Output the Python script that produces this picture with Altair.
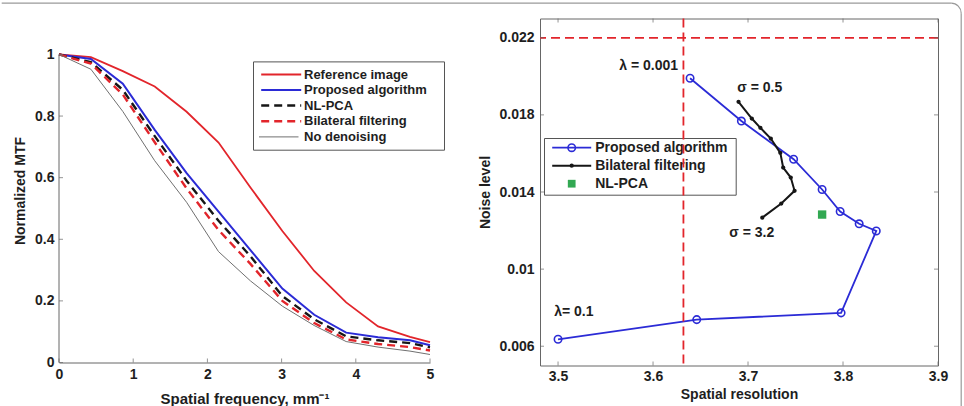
import altair as alt
import pandas as pd

# ---------------- MTF curves (left panel) ----------------
freq = [0, 0.43, 0.86, 1.29, 1.72, 2.15, 2.58, 3.01, 3.44, 3.87, 4.30, 4.73, 5.0]
mtf_reference = [1, 0.991, 0.946, 0.896, 0.814, 0.714, 0.568, 0.427, 0.297, 0.195, 0.117, 0.083, 0.066]
mtf_proposed = [1, 0.985, 0.905, 0.755, 0.615, 0.49, 0.365, 0.24, 0.155, 0.097, 0.082, 0.072, 0.056]
mtf_nlpca = [1, 0.975, 0.885, 0.735, 0.59, 0.46, 0.345, 0.216, 0.14, 0.085, 0.072, 0.063, 0.049]
mtf_bilateral = [1, 0.97, 0.87, 0.715, 0.565, 0.43, 0.32, 0.2, 0.128, 0.075, 0.06, 0.05, 0.039]
mtf_none = [1, 0.952, 0.815, 0.655, 0.52, 0.36, 0.265, 0.183, 0.12, 0.068, 0.05, 0.037, 0.026]
mtf_series = ["Reference image", "Proposed algorithm", "NL-PCA", "Bilateral filtering", "No denoising"]
mtf_values = [mtf_reference, mtf_proposed, mtf_nlpca, mtf_bilateral, mtf_none]
freq_ticks = [0, 1, 2, 3, 4, 5]
mtf_ticks = [0, 0.2, 0.4, 0.6, 0.8, 1]

# ---------------- Noise level vs spatial resolution (right panel) ----------------
prop_res = [3.639, 3.693, 3.748, 3.778, 3.797, 3.817, 3.835, 3.798, 3.646, 3.5]
prop_noise = [0.0199, 0.01768, 0.0157, 0.01413, 0.01299, 0.01235, 0.01198, 0.00773, 0.00738, 0.00636]
bil_res = [3.690, 3.704, 3.713, 3.724, 3.734, 3.737, 3.745, 3.749, 3.735, 3.715]
bil_noise = [0.01868, 0.01781, 0.01733, 0.01677, 0.01603, 0.01527, 0.01475, 0.01406, 0.0134, 0.01267]
nlpca_res = [3.778]
nlpca_noise = [0.01283]
res_limit = [3.632]
noise_limit = [0.022]
ann_text = ["λ = 0.001", "σ = 0.5", "σ = 3.2", "λ= 0.1"]
ann_res = [3.5644, 3.6886, 3.6802, 3.4959]
ann_noise = [0.02053, 0.0194, 0.01188, 0.00777]
res_ticks = [3.5, 3.6, 3.7, 3.8, 3.9]
noise_ticks = [0.006, 0.01, 0.014, 0.018, 0.022]
legend_right = ["Proposed algorithm", "Bilateral filtering", "NL-PCA"]

# ---------------- styling ----------------
RED = "#e2252b"
BLUE = "#2b2bd6"
BLACK = "#161616"
GRAY = "#707070"
GREEN = "#32a852"
AXIS_GRAY = "#666666"
TEXT = "#1e1e1e"
FONT = "Liberation Sans"

line_style = {
    "Reference image": {"color": RED, "strokeWidth": 1.8},
    "Proposed algorithm": {"color": BLUE, "strokeWidth": 2.0},
    "NL-PCA": {"color": BLACK, "strokeWidth": 2.4, "strokeDash": [8, 5]},
    "Bilateral filtering": {"color": RED, "strokeWidth": 2.4, "strokeDash": [8, 5]},
    "No denoising": {"color": GRAY, "strokeWidth": 1.0},
}

LW, LH = 371, 344
RW, RH = 398, 347
one = pd.DataFrame({"k": [0]})

# ---------------- left panel ----------------
mtf_df = pd.DataFrame(
    [{"series": s, "f": f, "mtf": v} for s, vals in zip(mtf_series, mtf_values) for f, v in zip(freq, vals)]
)
fx_scale = alt.Scale(domain=[0, 5], nice=False, zero=False)
fy_scale = alt.Scale(domain=[0, 1.1167], nice=False, zero=False)
fx_axis = alt.Axis(values=freq_ticks, title="Spatial frequency, mm⁻¹", format="~g", labelFlush=False,
                   domain=True, domainColor=AXIS_GRAY, labelPadding=5, titlePadding=10, titleFontSize=15)
fy_axis = alt.Axis(values=mtf_ticks, title="Normalized MTF", format="~g", labelFlush=False,
                   domain=False, labelPadding=5, titlePadding=7)


def fx(field):
    return alt.X(field, type="quantitative", scale=fx_scale, axis=fx_axis)


def fy(field):
    return alt.Y(field, type="quantitative", scale=fy_scale, axis=fy_axis)


left_layers = []
for s in mtf_series:
    left_layers.append(
        alt.Chart(mtf_df).transform_filter(alt.datum.series == s)
        .mark_line(**line_style[s]).encode(x=fx("f"), y=fy("mtf"))
    )

# y axis line from the first to the last tick only (the panel has no box)
yline_df = pd.DataFrame({"f": [freq_ticks[0]], "mtf": [mtf_ticks[0]], "mtf_top": [mtf_ticks[-1]]})
left_layers.append(
    alt.Chart(yline_df).mark_rule(color=AXIS_GRAY, strokeWidth=1)
    .encode(x=fx("f"), y=fy("mtf"), y2="mtf_top")
)
# inward tick marks
fxt = pd.DataFrame({"f": freq_ticks, "mtf": [mtf_ticks[0]] * len(freq_ticks)})
fyt = pd.DataFrame({"mtf": mtf_ticks, "f": [freq_ticks[0]] * len(mtf_ticks)})
left_layers.append(
    alt.Chart(fxt).mark_tick(orient="vertical", size=4, thickness=1, color=AXIS_GRAY, yOffset=-2)
    .encode(x=fx("f"), y=fy("mtf"))
)
left_layers.append(
    alt.Chart(fyt).mark_tick(orient="horizontal", size=4, thickness=1, color=AXIS_GRAY, xOffset=2)
    .encode(x=fx("f"), y=fy("mtf"))
)

# legend box
left_layers.append(
    alt.Chart(one).mark_rect(fill="white", stroke="#555555", strokeWidth=1)
    .encode(x=alt.value(194.5), x2=alt.value(385.5), y=alt.value(43.4), y2=alt.value(131.7))
)
row_y = [56.0, 71.4, 87.0, 102.7, 118.4]
for i, s in enumerate(mtf_series):
    st = dict(line_style[s])
    x_start, x_end = (200.0, 239.5) if s == "No denoising" else (202.2, 242.2)
    left_layers.append(
        alt.Chart(one).mark_rule(**st)
        .encode(x=alt.value(x_start), x2=alt.value(x_end), y=alt.value(row_y[i]))
    )
    left_layers.append(
        alt.Chart(one).mark_text(text=s, align="left", baseline="middle", font=FONT,
                                 fontSize=13, fontWeight="bold", color=TEXT)
        .encode(x=alt.value(245.0), y=alt.value(row_y[i]))
    )

left = alt.layer(*left_layers).properties(width=LW, height=LH)

# ---------------- right panel ----------------
rx_scale = alt.Scale(domain=[3.481, 3.9], nice=False, zero=False)
ry_scale = alt.Scale(domain=[0.005, 0.023], nice=False, zero=False)
rx_axis = alt.Axis(values=res_ticks, title="Spatial resolution", format="~g", labelFlush=False,
                   domain=False, labelPadding=4, titlePadding=4)
ry_axis = alt.Axis(values=noise_ticks, title="Noise level", format="~g", labelFlush=False,
                   domain=False, labelPadding=6, titlePadding=6)


def rx(field):
    return alt.X(field, type="quantitative", scale=rx_scale, axis=rx_axis)


def ry(field):
    return alt.Y(field, type="quantitative", scale=ry_scale, axis=ry_axis)


prop_df = pd.DataFrame({"res": prop_res, "noise": prop_noise, "i": list(range(len(prop_res)))})
bil_df = pd.DataFrame({"res": bil_res, "noise": bil_noise, "i": list(range(len(bil_res)))})
nl_df = pd.DataFrame({"res": nlpca_res, "noise": nlpca_noise})
ann_df = pd.DataFrame({"label": ann_text, "res": ann_res, "noise": ann_noise})

right_layers = [
    alt.Chart(prop_df).mark_line(color=BLUE, strokeWidth=1.8)
    .encode(x=rx("res"), y=ry("noise"), order="i:Q"),
    alt.Chart(prop_df).mark_point(shape="circle", filled=False, size=55, strokeWidth=1.6,
                                  color=BLUE, opacity=1)
    .encode(x=rx("res"), y=ry("noise")),
    alt.Chart(bil_df).mark_line(color=BLACK, strokeWidth=2.0)
    .encode(x=rx("res"), y=ry("noise"), order="i:Q"),
    alt.Chart(bil_df).mark_circle(size=18, color=BLACK, opacity=1)
    .encode(x=rx("res"), y=ry("noise")),
    alt.Chart(nl_df).mark_square(size=70, color=GREEN, opacity=1)
    .encode(x=rx("res"), y=ry("noise")),
]

# legend
right_layers.append(
    alt.Chart(one).mark_rect(fill="white", stroke="#555555", strokeWidth=1)
    .encode(x=alt.value(4.5), x2=alt.value(196.2), y=alt.value(120.0), y2=alt.value(176.7))
)
rrow = [129.2, 147.2, 165.2]
right_layers += [
    alt.Chart(one).mark_rule(color=BLUE, strokeWidth=1.8)
    .encode(x=alt.value(12.2), x2=alt.value(51.2), y=alt.value(rrow[0])),
    alt.Chart(one).mark_point(shape="circle", filled=False, size=55, strokeWidth=1.6, color=BLUE, opacity=1)
    .encode(x=alt.value(31.7), y=alt.value(rrow[0])),
    alt.Chart(one).mark_rule(color=BLACK, strokeWidth=2.0)
    .encode(x=alt.value(12.2), x2=alt.value(51.2), y=alt.value(rrow[1])),
    alt.Chart(one).mark_circle(size=18, color=BLACK, opacity=1)
    .encode(x=alt.value(31.7), y=alt.value(rrow[1])),
    alt.Chart(one).mark_square(size=60, color=GREEN, opacity=1)
    .encode(x=alt.value(31.7), y=alt.value(rrow[2])),
]
for i, s in enumerate(legend_right):
    right_layers.append(
        alt.Chart(one).mark_text(text=s, align="left", baseline="middle", font=FONT,
                                 fontSize=14, fontWeight="bold", color=TEXT)
        .encode(x=alt.value(55.2), y=alt.value(rrow[i]))
    )

# limits (red dashed)
right_layers += [
    alt.Chart(pd.DataFrame({"res": res_limit})).mark_rule(color=RED, strokeDash=[9, 5], strokeWidth=1.8)
    .encode(x=rx("res")),
    alt.Chart(pd.DataFrame({"noise": noise_limit})).mark_rule(color=RED, strokeDash=[9, 5], strokeWidth=1.8)
    .encode(y=ry("noise")),
]

# parameter annotations
right_layers.append(
    alt.Chart(ann_df).mark_text(align="left", baseline="middle", font=FONT, fontSize=14,
                                fontWeight="bold", color=TEXT)
    .encode(x=rx("res"), y=ry("noise"), text="label:N")
)

# inward ticks on all four sides of the box
x_lo, x_hi = rx_scale.domain
y_lo, y_hi = ry_scale.domain
xt_lo = pd.DataFrame({"res": res_ticks, "noise": [y_lo] * len(res_ticks)})
xt_hi = pd.DataFrame({"res": res_ticks, "noise": [y_hi] * len(res_ticks)})
yt_lo = pd.DataFrame({"noise": noise_ticks, "res": [x_lo] * len(noise_ticks)})
yt_hi = pd.DataFrame({"noise": noise_ticks, "res": [x_hi] * len(noise_ticks)})
right_layers += [
    alt.Chart(xt_lo).mark_tick(orient="vertical", size=4, thickness=1, color=AXIS_GRAY, yOffset=-2)
    .encode(x=rx("res"), y=ry("noise")),
    alt.Chart(xt_hi).mark_tick(orient="vertical", size=4, thickness=1, color=AXIS_GRAY, yOffset=2)
    .encode(x=rx("res"), y=ry("noise")),
    alt.Chart(yt_lo).mark_tick(orient="horizontal", size=4, thickness=1, color=AXIS_GRAY, xOffset=2)
    .encode(x=rx("res"), y=ry("noise")),
    alt.Chart(yt_hi).mark_tick(orient="horizontal", size=4, thickness=1, color=AXIS_GRAY, xOffset=-2)
    .encode(x=rx("res"), y=ry("noise")),
]

# figure frame (top edge, rounded corner, right edge)
FRAME = "#9a9a9a"
right_layers += [
    alt.Chart(one).mark_rule(color=FRAME, strokeWidth=1.2)
    .encode(x=alt.value(-538.3), x2=alt.value(411.2), y=alt.value(-15.3)),
    alt.Chart(one).mark_rule(color=FRAME, strokeWidth=1.2)
    .encode(x=alt.value(421.2), y=alt.value(-5.3), y2=alt.value(410)),
    alt.Chart(one).mark_arc(theta=0, theta2=1.5708, radius=10.6, radius2=9.4, color=FRAME)
    .encode(x=alt.value(411.2), y=alt.value(-5.3)),
]

right = alt.layer(*right_layers).properties(
    width=RW, height=RH, view=alt.ViewBackground(stroke=AXIS_GRAY, strokeWidth=1)
)

chart = (
    alt.hconcat(left, right, spacing=110, bounds="flush")
    .properties(padding={"left": 0, "top": 1.5, "right": 0, "bottom": 0}, background="white")
    .configure_view(stroke="transparent")
    .configure_axis(
        labelFont=FONT, labelFontWeight="bold", labelFontSize=14, labelColor=TEXT,
        titleFont=FONT, titleFontWeight="bold", titleFontSize=14, titleColor=TEXT,
        ticks=False, tickSize=0, grid=False,
    )
)

chart.save("out.html", embed_options={"renderer": "svg", "actions": False})
